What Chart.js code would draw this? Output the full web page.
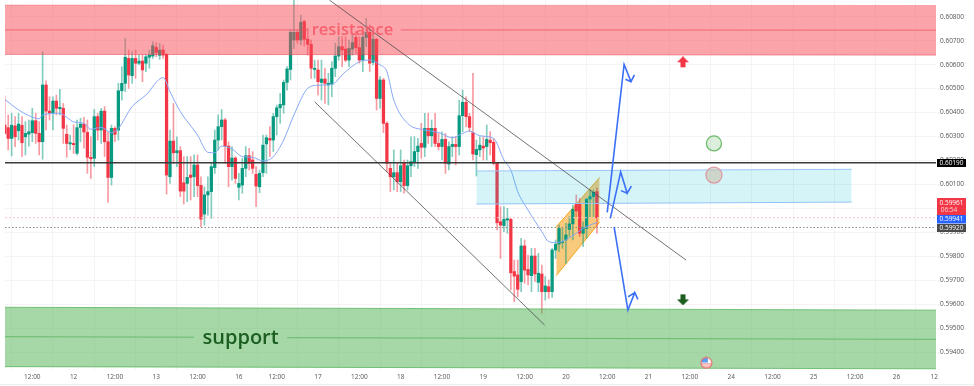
<!DOCTYPE html>
<html>
<head>
<meta charset="utf-8">
<title>Chart</title>
<script src="https://cdn.jsdelivr.net/npm/chart.js@4"></script>
<style>
  html, body { margin: 0; padding: 0; background: #fff; overflow: hidden; }
  #wrap { position: relative; width: 974px; height: 386px; }
  #wrap::after { content: ''; position: absolute; left: 0; right: 0; top: 384px; height: 1px; background: #efefef; }
  canvas { display: block; }
</style>
</head>
<body>
<div id="wrap"><canvas id="chart" width="974" height="386"></canvas></div>
<script>
// prices are written in points (1 point = 0.00001), bars are hours from the first 12:00 label
const firstBar = -8;
const opens = [
  60348, 60337, 60292, 60344, 60324, 60347, 60299, 60310, 60316, 60366, 60313, 60278,
  60515, 60406, 60397, 60448, 60416, 60418, 60309, 60269, 60271, 60230, 60338, 60352,
  60317, 60213, 60209, 60383, 60327, 60406, 60278, 60129, 60334, 60327, 60491, 60522,
  60626, 60554, 60626, 60606, 60615, 60606, 60631, 60636, 60672, 60639, 60661, 60643,
  60132, 60281, 60232, 60241, 60107, 60104, 60139, 60132, 60181, 60096, 59976, 60056,
  60070, 60170, 60285, 60341, 60369, 60260, 60174, 60210, 60088, 60097, 60167, 60220,
  60202, 60142, 60090, 60149, 60269, 60292, 60285, 60383, 60420, 60432, 60526, 60580,
  60703, 60735, 60703, 60780, 60706, 60685, 60580, 60578, 60526, 60540, 60515, 60518,
  60585, 60636, 60675, 60665, 60619, 60665, 60714, 60671, 60619, 60714, 60735, 60610,
  60706, 60459, 60536, 60355, 60167, 60132, 60149, 60111, 60188, 60095, 60178, 60195,
  60237, 60271, 60255, 60334, 60303, 60334, 60271, 60258, 60288, 60185, 60258, 60267,
  60258, 60387, 60443, 60383, 60316, 60224, 60244, 60260, 60258, 60285, 60276, 60188,
  59944, 59928, 59951, 59954, 59736, 59722, 59694, 59843, 59745, 59719, 59801, 59691,
  59726, 59652, 59673, 59652, 59826, 59851, 59857, 59868, 59912, 59935, 60018, 60018,
  59896, 59916, 60039, 60049, 60070
];
const highs = [
  60469, 60390, 60397, 60383, 60397, 60383, 60362, 60369, 60418, 60397, 60362, 60654,
  60532, 60466, 60466, 60473, 60497, 60438, 60348, 60306, 60349, 60369, 60376, 60380,
  60369, 60299, 60413, 60397, 60418, 60425, 60320, 60348, 60341, 60522, 60592, 60710,
  60661, 60654, 60661, 60640, 60640, 60640, 60661, 60696, 60692, 60689, 60682, 60647,
  60327, 60438, 60299, 60258, 60216, 60216, 60216, 60223, 60223, 60132, 60090, 60132,
  60188, 60327, 60390, 60413, 60376, 60278, 60258, 60216, 60146, 60209, 60258, 60251,
  60237, 60174, 60160, 60306, 60306, 60341, 60397, 60431, 60480, 60536, 60592, 60745,
  60884, 60745, 60807, 60786, 60752, 60703, 60619, 60619, 60619, 60585, 60564, 60612,
  60689, 60717, 60717, 60717, 60703, 60731, 60738, 60717, 60745, 60793, 60766, 60731,
  60710, 60550, 60543, 60362, 60188, 60244, 60188, 60244, 60202, 60202, 60299, 60299,
  60292, 60355, 60397, 60397, 60369, 60397, 60313, 60320, 60313, 60278, 60299, 60299,
  60452, 60494, 60466, 60397, 60564, 60285, 60299, 60299, 60348, 60320, 60292, 60188,
  60007, 60007, 60000, 59958, 59784, 59784, 59875, 59868, 59805, 59833, 59833, 59812,
  59763, 59715, 59701, 59833, 59868, 59930, 59916, 59937, 59965, 60014, 60056, 60042,
  59944, 60042, 60077, 60077, 60086
];
const lows = [
  60309, 60244, 60219, 60258, 60285, 60216, 60223, 60260, 60278, 60271, 60223, 60205,
  60327, 60369, 60327, 60390, 60390, 60271, 60213, 60244, 60229, 60223, 60278, 60251,
  60146, 60125, 60174, 60285, 60271, 60216, 60025, 60097, 60278, 60285, 60452, 60487,
  60501, 60522, 60543, 60599, 60529, 60571, 60585, 60626, 60633, 60622, 60626, 60060,
  60104, 60188, 60174, 60049, 60018, 60028, 60035, 60049, 60049, 59923, 59930, 59972,
  59958, 60146, 60244, 60285, 60188, 60090, 60118, 60104, 60035, 60063, 60132, 60160,
  60146, 60007, 60065, 60132, 60146, 60216, 60237, 60306, 60355, 60397, 60494, 60536,
  60668, 60689, 60682, 60678, 60640, 60543, 60543, 60473, 60452, 60438, 60432, 60466,
  60550, 60619, 60592, 60612, 60592, 60640, 60647, 60606, 60571, 60675, 60571, 60599,
  60411, 60418, 60316, 60153, 60070, 60077, 60070, 60070, 60063, 60077, 60132, 60174,
  60167, 60209, 60216, 60271, 60258, 60258, 60244, 60202, 60146, 60160, 60216, 60181,
  60223, 60320, 60341, 60320, 60202, 60135, 60216, 60202, 60202, 60223, 60181, 59910,
  59791, 59903, 59896, 59659, 59610, 59631, 59652, 59687, 59680, 59652, 59694, 59652,
  59562, 59617, 59624, 59628, 59791, 59819, 59833, 59770, 59882, 59868, 59965, 59882,
  59840, 59875, 59965, 59965, 59896
];
const closes = [
  60313, 60292, 60347, 60299, 60352, 60274, 60313, 60320, 60366, 60313, 60278, 60515,
  60406, 60397, 60448, 60418, 60422, 60334, 60271, 60274, 60266, 60337, 60352, 60319,
  60213, 60207, 60383, 60327, 60406, 60278, 60129, 60334, 60309, 60491, 60522, 60631,
  60557, 60626, 60606, 60615, 60578, 60633, 60640, 60679, 60651, 60661, 60640, 60139,
  60281, 60232, 60241, 60072, 60072, 60129, 60129, 60181, 60095, 59955, 60056, 60070,
  60174, 60285, 60341, 60369, 60260, 60174, 60210, 60125, 60104, 60167, 60220, 60188,
  60167, 60093, 60146, 60264, 60295, 60285, 60383, 60420, 60434, 60526, 60582, 60735,
  60735, 60703, 60777, 60706, 60685, 60585, 60585, 60529, 60540, 60522, 60522, 60585,
  60636, 60675, 60661, 60619, 60668, 60692, 60671, 60619, 60714, 60735, 60606, 60706,
  60459, 60536, 60355, 60188, 60132, 60149, 60111, 60178, 60095, 60178, 60195, 60237,
  60260, 60255, 60334, 60303, 60334, 60271, 60258, 60288, 60188, 60258, 60267, 60258,
  60387, 60443, 60383, 60338, 60227, 60246, 60264, 60252, 60288, 60274, 60188, 59940,
  59930, 59954, 59957, 59731, 59717, 59662, 59843, 59742, 59722, 59801, 59726, 59729,
  59652, 59676, 59652, 59826, 59850, 59916, 59861, 59889, 59935, 59996, 59989, 59896,
  59921, 60038, 60049, 60067, 59961
];

const maBars = [-8, -4, -1, 2, 3, 8, 10, 12, 15, 17, 20, 23, 25, 29, 33, 38, 40, 43, 48, 51, 53, 55, 58, 61, 64, 67, 70,
  73, 76, 80, 83, 87, 91, 96, 98, 101, 103, 105, 109, 114, 118, 122, 125, 127, 130, 134, 137, 139, 141, 144, 148, 150,
  152, 155, 158, 160, 162, 164];
const maValues = [60455, 60411, 60387, 60374, 60390, 60397, 60380, 60361, 60355, 60330, 60338, 60316, 60334, 60425,
  60473, 60546, 60487, 60404, 60306, 60234, 60232, 60260, 60248, 60216, 60213, 60198, 60216, 60285, 60390, 60501, 60514,
  60518, 60571, 60617, 60619, 60599, 60571, 60452, 60355, 60327, 60317, 60295, 60313, 60323, 60303, 60292, 60202, 60160,
  60070, 59993, 59903, 59861, 59857, 59868, 59896, 59916, 59930, 59941];

const xTickBars = [0, 12, 24, 36, 48, 60, 71, 83, 95, 107, 119, 131, 143, 155, 167, 179, 191, 203, 215, 227, 239, 251, 262];
const xTickLabels = ['12:00', '12', '12:00', '13', '12:00', '16', '12:00', '17', '12:00', '18', '12:00', '19', '12:00',
  '20', '12:00', '21', '12:00', '24', '12:00', '25', '12:00', '26', '12'];
const yTickValues = [60800, 60700, 60600, 60500, 60400, 60300, 60200, 60100, 60000, 59900, 59800, 59700, 59600, 59500, 59400];

const xMin = -7.93, xMax = 262.5, yMin = 59325, yMax = 60870;

// drawings on the chart
const resistanceTop = [60849, 60847], resistanceBottom = [60643, 60640];
const resistanceMidLeft = [60745, 60745], resistanceMidRight = [60745, 60744];
const resistanceGapBars = [80, 107];
const supportTop = [59587, 59575], supportBottom = [59339, 59330];
const supportMidLeft = [59464, 59462], supportMidRight = [59460, 59453];
const supportGapBars = [47, 74];
const boxBars = [129, 238], boxTop = [60156, 60163], boxBottom = [60018, 60026];
const levelBlack = 60190, levelDotted = 59920, levelLast = 59961, levelMa = 59941;
const upperTrendBars = [86.3, 189.9], upperTrendValues = [60870, 59784];
const lowerTrendBars = [82, 148.8], lowerTrendValues = [60445, 59513];
const channelBars = [152.2, 164.8], channelTop = [59923, 60129], channelBottom = [59719, 59942];
const arrowUpBars = [167, 171.9, 173.9, 174.9, 173.9, 172.3];
const arrowUpValues = [59983, 60601, 60529, 60557, 60529, 60539];
const arrowMidBars = [167.9, 170.9, 172.8, 174, 172.8, 171];
const arrowMidValues = [59958, 60152, 60063, 60093, 60063, 60074];
const arrowDownBars = [169, 173, 175, 175.9, 175, 173.1];
const arrowDownValues = [59923, 59575, 59648, 59620, 59648, 59631];
const greenCircle = { x: 198, y: 60271 }, redCircle = { x: 198, y: 60139 };
const redMark = { x: 189, y: 60610 }, greenMark = { x: 189, y: 59620 }, flagMark = { x: 195.8, y: 59355 };
const zoneLabels = [
  { text: 'resistance', x: 93, y: 60745, color: '#f8616e', font: '600 16.5px "Open Sans"' },
  { text: 'support', x: 60.5, y: 59459, color: '#1b5e20', font: '600 20px "Open Sans"' },
];
const priceTags = [
  { text: '0.60190', value: levelBlack, top: 159, bottom: 167, color: '#000' },
  { text: '0.59961', sub: '06:54', value: levelLast, top: 198, bottom: 215, color: '#f23645' },
  { text: '0.59941', value: levelMa, top: 215, bottom: 223.5, color: '#2962ff' },
  { text: '0.59920', value: levelDotted, top: 224, bottom: 232, color: '#4a4a4a' },
];

const UP = '#089981', DOWN = '#f23645';
const isUp = opens.map((o, i) => closes[i] >= o);
const barX = i => firstBar + i;

const pts = (xs, ys) => xs.map((x, i) => ({ x, y: ys[i] }));
const line = (xs, ys, color, order, extra) => ({
  type: 'line', data: pts(xs, ys), borderColor: color, borderWidth: 1, pointRadius: 0, fill: false, order, ...extra,
});

function blockArrow(color, up) {
  const c = document.createElement('canvas');
  c.width = 12; c.height = 12;
  const g = c.getContext('2d');
  if (!up) { g.translate(0, 12); g.scale(1, -1); }
  g.fillStyle = color;
  g.beginPath();
  g.moveTo(6, 0); g.lineTo(12, 6); g.lineTo(8.5, 6); g.lineTo(8.5, 11); g.lineTo(3.5, 11); g.lineTo(3.5, 6); g.lineTo(0, 6);
  g.closePath();
  g.fill();
  return c;
}

function flagIcon() {
  const c = document.createElement('canvas');
  c.width = 13; c.height = 13;
  const g = c.getContext('2d');
  g.beginPath(); g.arc(6.5, 6.5, 5.4, 0, Math.PI * 2); g.fillStyle = '#fff'; g.fill();
  g.save(); g.clip();
  g.fillStyle = '#f28b8b'; g.fillRect(0, 7, 13, 1.2); g.fillRect(0, 9.4, 13, 1.2);
  g.fillStyle = '#5b9bf0'; g.fillRect(0, 0, 8, 6.2);
  g.restore();
  g.beginPath(); g.arc(6.5, 6.5, 5.4, 0, Math.PI * 2); g.strokeStyle = '#ec6f6f'; g.lineWidth = 1.2; g.stroke();
  return c;
}

const overlayPlugin = {
  id: 'overlay',
  afterDraw(chart) {
    const { ctx, scales: { x, y }, chartArea } = chart;
    ctx.save();
    ctx.textBaseline = 'middle';
    ctx.textAlign = 'center';
    zoneLabels.forEach(l => {
      ctx.font = l.font;
      ctx.fillStyle = l.color;
      ctx.fillText(l.text, x.getPixelForValue(l.x), y.getPixelForValue(l.y));
    });
    // price tags on the right axis
    priceTags.forEach(t => {
      const left = chartArea.right + 1;
      ctx.fillStyle = t.color;
      ctx.fillRect(left, t.top, 29, t.bottom - t.top);
      ctx.fillStyle = '#fff';
      ctx.font = '6.5px "Open Sans"';
      if (t.sub) {
        ctx.fillText(t.text, left + 14.5, t.top + 5);
        ctx.fillStyle = '#fbd0d4';
        ctx.fillText(t.sub, left + 12, t.top + 12);
      } else {
        ctx.fillText(t.text, left + 14.5, (t.top + t.bottom) / 2);
      }
    });
    ctx.restore();
  },
};

new Chart(document.getElementById('chart'), {
  type: 'bar',
  plugins: [overlayPlugin],
  data: {
    datasets: [
      // zones
      line([xMin, xMax], resistanceTop, 'rgba(247,75,87,.35)', 3, { fill: '+1', backgroundColor: 'rgba(247,75,87,.5)' }),
      line([xMin, xMax], resistanceBottom, 'rgba(230,70,85,.6)', 3),
      line([xMin, resistanceGapBars[0]], resistanceMidLeft, 'rgba(225,70,85,.7)', 3),
      line([resistanceGapBars[1], xMax], resistanceMidRight, 'rgba(225,70,85,.7)', 3),
      line([xMin, xMax], supportTop, 'rgba(76,175,80,.7)', 3, { fill: '+1', backgroundColor: 'rgba(76,175,80,.5)' }),
      line([xMin, xMax], supportBottom, 'rgba(76,175,80,.7)', 3),
      line([xMin, supportGapBars[0]], supportMidLeft, 'rgba(76,175,80,.7)', 3),
      line([supportGapBars[1], xMax], supportMidRight, 'rgba(76,175,80,.7)', 3),
      line(boxBars, boxTop, '#9cc4fa', 3, { fill: '+1', backgroundColor: 'rgba(0,188,212,.165)' }),
      line(boxBars, boxBottom, '#9cc4fa', 3),
      // levels
      line([xMin, xMax], [levelLast, levelLast], '#f9c4c8', 4, { borderDash: [2, 2] }),
      line([xMin, xMax], [levelDotted, levelDotted], '#8a8a8a', 4, { borderDash: [1.5, 2] }),
      line([xMin, xMax], [levelBlack, levelBlack], '#3a3a3a', 2, { borderWidth: 1.5 }),
      // channel sits behind the candles
      line(channelBars, channelTop, '#f5a623', 7, { fill: '+1', backgroundColor: 'rgba(245,166,35,.6)' }),
      line(channelBars, channelBottom, '#f5a623', 7),
      // candles
      {
        type: 'bar', grouped: false, order: 6, barThickness: 1,
        data: highs.map((h, i) => ({ x: barX(i), y: [lows[i], h] })),
        backgroundColor: isUp.map(u => (u ? 'rgba(8,153,129,.5)' : 'rgba(242,54,69,.5)')),
      },
      {
        type: 'bar', grouped: false, order: 5, barThickness: 2.6, minBarLength: 1,
        data: opens.map((o, i) => ({ x: barX(i), y: [o, closes[i]] })),
        backgroundColor: isUp.map(u => (u ? UP : DOWN)),
      },
      // average
      line(maBars, maValues, '#86a8f5', 4, { cubicInterpolationMode: 'monotone' }),
      // trend lines
      line(upperTrendBars, upperTrendValues, 'rgba(70,70,70,.75)', 2),
      line(lowerTrendBars, lowerTrendValues, 'rgba(70,70,70,.75)', 2),
      // projected moves
      line(arrowUpBars, arrowUpValues, '#3b6ff5', 1, { borderWidth: 1.6 }),
      line(arrowMidBars, arrowMidValues, '#3b6ff5', 1, { borderWidth: 1.6 }),
      line(arrowDownBars, arrowDownValues, '#3b6ff5', 1, { borderWidth: 1.6 }),
      // marks
      {
        type: 'scatter', order: 0, data: [greenCircle], pointRadius: 7.5, pointBorderWidth: 1.3,
        pointBackgroundColor: 'rgba(76,175,80,.2)', pointBorderColor: '#6cbb6c',
      },
      {
        type: 'scatter', order: 0, data: [redCircle], pointRadius: 8, pointBorderWidth: 1.3,
        pointBackgroundColor: 'rgba(200,190,170,.55)', pointBorderColor: '#dc9aa2',
      },
      { type: 'scatter', order: 0, data: [redMark], pointStyle: blockArrow('#f23645', true), pointRadius: 6 },
      { type: 'scatter', order: 0, data: [greenMark], pointStyle: blockArrow('#1b5e20', false), pointRadius: 6 },
      { type: 'scatter', order: 0, data: [flagMark], pointStyle: flagIcon(), pointRadius: 6 },
    ],
  },
  options: {
    responsive: false,
    animation: false,
    // autoPadding would shrink the plot to make room for the scatter marks
    layout: { autoPadding: false, padding: { left: 5, top: 0, right: 0, bottom: 0 } },
    plugins: { legend: { display: false }, tooltip: { enabled: false } },
    scales: {
      x: {
        type: 'linear', offset: false, min: xMin, max: xMax,
        afterFit: s => { s.height = 16; },
        afterBuildTicks: s => { s.ticks = xTickBars.map(value => ({ value })); },
        grid: { color: '#f4f4f4', drawTicks: false },
        border: { display: false },
        ticks: {
          autoSkip: false, maxRotation: 0, padding: 3, color: '#555',
          font: { family: 'Open Sans', size: 6.5 },
          callback: (v, i) => xTickLabels[i],
        },
      },
      y: {
        position: 'right', min: yMin, max: yMax,
        // tick padding would otherwise push the plot top down
        afterFit: s => { s.width = 38; s.paddingTop = 0; s.paddingBottom = 0; },
        afterBuildTicks: s => { s.ticks = yTickValues.map(value => ({ value })); },
        grid: { color: '#f4f4f4', drawTicks: false },
        border: { display: false },
        ticks: {
          autoSkip: false, padding: 4, color: '#555',
          font: { family: 'Open Sans', size: 6.5 },
          callback: v => (v / 100000).toFixed(5),
        },
      },
    },
  },
});
</script>
</body>
</html>
